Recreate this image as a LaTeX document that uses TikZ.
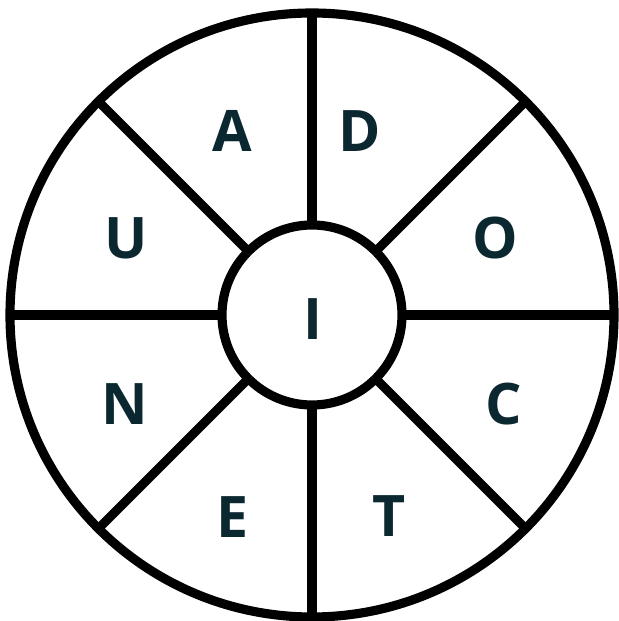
\documentclass[tikz,border=0pt]{standalone}
\usepackage{fontspec}
\setmainfont{Open Sans}
\usepackage{xcolor}
\usepackage{tikz}
\definecolor{DeepTeal}{HTML}{0B2831}

\begin{document}
\begin{tikzpicture}[
    ring/.style={circle, draw=black, line width=2.6pt, outer sep=0pt, inner sep=0pt},
    spoke/.style={draw=black, line width=2.6pt},
    letter/.style={font=\fontsize{16.3}{20}\selectfont\bfseries, text=DeepTeal}
]
\useasboundingbox (-3.12,-3.06) rectangle (3.07,3.15);

% Outer ring and hub
\node[ring, minimum size=6.04cm] (rim) at (0,0) {};
\node[ring, minimum size=1.80cm] (hub) at (0,0) {};
\node[letter] (li) at (0.01,-0.04) {I};

% Spokes
\foreach \a in {0,45,...,315}
    \draw[spoke] (hub.\a) -- (rim.\a);

% Letters round the hub
\node[letter] (la) at (-0.80, 1.84) {A};
\node[letter] (ld) at (0.48, 1.84) {D};
\node[letter] (lo) at (1.83, 0.77) {O};
\node[letter] (lc) at (1.92, -0.89) {C};
\node[letter] (lt) at (0.77, -2.01) {T};
\node[letter] (le) at (-0.79, -2.02) {E};
\node[letter] (ln) at (-1.87, -0.89) {N};
\node[letter] (lu) at (-1.86, 0.77) {U};
\end{tikzpicture}
\end{document}
